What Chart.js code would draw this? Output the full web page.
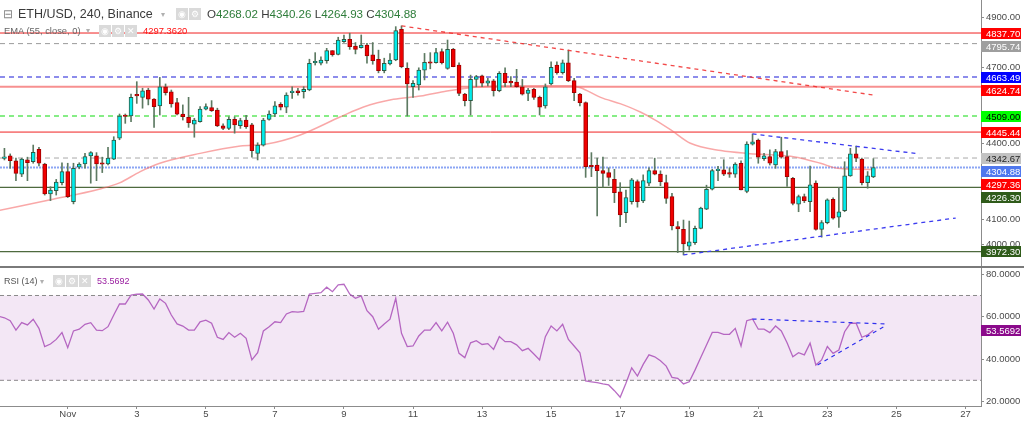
<!DOCTYPE html>
<html>
<head>
<meta charset="utf-8">
<script src="https://cdn.jsdelivr.net/npm/chart.js@4.4.1/dist/chart.umd.min.js"></script>
<style>
  body { margin: 0; background: #fff; width: 1024px; height: 421px; overflow: hidden; position: relative;
         font-family: "Liberation Sans", Arial, sans-serif; }
  canvas { position: absolute; left: 0; }
  #priceChart { top: 0; }
  #rsiChart { top: 268px; }
  .sep { position: absolute; left: 0; top: 266px; width: 1024px; height: 2px; background: #7a7a7a; }
  .t { position: absolute; white-space: nowrap; line-height: 1; }
  .ic { position: absolute; width: 12px; height: 12px; background: #dadada; color: #fff; font-size: 9px;
        line-height: 12px; text-align: center; }
  .caret { color: #b0b0b0; font-size: 8px; }
  .g { color: #2e7d3a; }
</style>
</head>
<body>
<canvas id="priceChart" width="1024" height="266"></canvas>
<div class="sep"></div>
<canvas id="rsiChart" width="1024" height="153"></canvas>

<!-- legends -->
<span class="t" style="left:3px;top:8px;font-size:12px;color:#888">&#8863;</span>
<span class="t" style="left:18px;top:8px;font-size:12.5px;color:#3a3a3a">ETH/USD, 240, Binance</span>
<span class="t caret" style="left:161px;top:11px">&#9662;</span>
<span class="ic" style="left:176px;top:8px">&#9673;</span>
<span class="ic" style="left:189px;top:8px">&#9881;</span>
<span class="t" style="left:207px;top:8px;font-size:11.6px;color:#3a3a3a">O<span class="g">4268.02</span> H<span class="g">4340.26</span> L<span class="g">4264.93</span> C<span class="g">4304.88</span></span>

<span class="t" style="left:4px;top:26px;font-size:9.4px;color:#666">EMA (55, close, 0)</span>
<span class="t caret" style="left:86px;top:27px">&#9662;</span>
<span class="ic" style="left:99px;top:25px">&#9673;</span>
<span class="ic" style="left:112px;top:25px">&#9881;</span>
<span class="ic" style="left:125px;top:25px">&#10005;</span>
<span class="t" style="left:143px;top:26px;font-size:9.4px;color:#ff1010">4297.3620</span>

<span class="t" style="left:4px;top:277px;font-size:9px;color:#555">RSI (14)</span>
<span class="t caret" style="left:40px;top:278px">&#9662;</span>
<span class="ic" style="left:53px;top:275px">&#9673;</span>
<span class="ic" style="left:66px;top:275px">&#9881;</span>
<span class="ic" style="left:79px;top:275px">&#10005;</span>
<span class="t" style="left:97px;top:277px;font-size:9px;color:#9a1fa0">53.5692</span>

<script>
// ---- data (4h candles, index 0 = Nov 1 00:00) ----
const firstCandle = -11;
const candleOpen = [
  4341, 4351, 4332, 4279, 4335, 4328, 4377, 4319, 4200, 4213, 4245, 4289, 4170, 4306, 4319, 4351, 4351, 4320, 4319, 4338,
  4421, 4510, 4509, 4592, 4583, 4612, 4576, 4549, 4625, 4605, 4562, 4517, 4504, 4477, 4487, 4536, 4542, 4533, 4470, 4460,
  4496, 4471, 4493, 4474, 4361, 4394, 4496, 4517, 4555, 4544, 4601, 4609, 4605, 4612, 4720, 4718, 4728, 4768, 4753, 4803,
  4813, 4786, 4780, 4790, 4751, 4734, 4689, 4715, 4731, 4852, 4698, 4625, 4632, 4691, 4722, 4720, 4764, 4698, 4773, 4711,
  4596, 4570, 4654, 4668, 4639, 4648, 4609, 4678, 4642, 4643, 4625, 4599, 4615, 4583, 4549, 4636, 4711, 4681, 4720, 4649,
  4596, 4562, 4310, 4315, 4293, 4285, 4258, 4209, 4126, 4170, 4249, 4173, 4243, 4293, 4279, 4245, 4190, 4071, 4060, 3994,
  4007, 4064, 4140, 4219, 4293, 4296, 4285, 4279, 4322, 4210, 4398, 4414, 4340, 4348, 4315, 4368, 4348, 4262, 4160, 4190,
  4170, 4243, 4060, 4087, 4179, 4108, 4134, 4272, 4359, 4338, 4245, 4268.02
];
const candleHigh = [
  4381, 4359, 4342, 4342, 4346, 4394, 4385, 4322, 4229, 4258, 4324, 4322, 4322, 4324, 4361, 4368, 4364, 4346, 4385, 4427,
  4517, 4517, 4596, 4645, 4619, 4619, 4578, 4662, 4636, 4612, 4579, 4553, 4583, 4500, 4546, 4557, 4570, 4540, 4478, 4506,
  4506, 4500, 4512, 4480, 4403, 4500, 4530, 4566, 4562, 4601, 4625, 4619, 4625, 4734, 4760, 4743, 4777, 4768, 4821, 4830,
  4837, 4800, 4830, 4797, 4800, 4770, 4738, 4756, 4863, 4866, 4720, 4649, 4700, 4757, 4760, 4777, 4775, 4810, 4777, 4720,
  4599, 4671, 4670, 4671, 4659, 4654, 4685, 4700, 4665, 4694, 4654, 4619, 4619, 4588, 4636, 4724, 4724, 4731, 4770, 4658,
  4599, 4565, 4364, 4342, 4346, 4304, 4298, 4245, 4216, 4262, 4256, 4276, 4304, 4342, 4292, 4275, 4203, 4091, 4097, 4093,
  4073, 4148, 4235, 4298, 4310, 4336, 4304, 4324, 4332, 4407, 4438, 4418, 4361, 4375, 4377, 4425, 4372, 4266, 4196, 4200,
  4311, 4252, 4095, 4181, 4185, 4227, 4328, 4381, 4390, 4342, 4289, 4340.26
];
const candleLow = [
  4335, 4302, 4253, 4269, 4253, 4322, 4311, 4196, 4174, 4196, 4236, 4186, 4161, 4300, 4302, 4243, 4253, 4285, 4315, 4336,
  4415, 4480, 4487, 4559, 4540, 4553, 4464, 4513, 4592, 4544, 4513, 4493, 4464, 4425, 4485, 4533, 4527, 4467, 4455, 4455,
  4441, 4460, 4460, 4346, 4335, 4390, 4493, 4506, 4533, 4522, 4579, 4592, 4580, 4609, 4711, 4711, 4718, 4746, 4751, 4800,
  4773, 4755, 4778, 4718, 4714, 4680, 4680, 4711, 4728, 4700, 4509, 4583, 4612, 4652, 4696, 4718, 4715, 4694, 4704, 4590,
  4549, 4513, 4625, 4625, 4628, 4588, 4605, 4625, 4625, 4623, 4592, 4570, 4575, 4513, 4540, 4632, 4675, 4675, 4645, 4570,
  4549, 4266, 4269, 4113, 4227, 4234, 4166, 4071, 4087, 4160, 4148, 4166, 4233, 4276, 4233, 4163, 4058, 3968, 3959, 3978,
  4000, 4062, 4138, 4216, 4253, 4273, 4266, 4266, 4216, 4205, 4394, 4322, 4333, 4315, 4302, 4342, 4230, 4157, 4130, 4166,
  4130, 4057, 4029, 4082, 4100, 4068, 4130, 4270, 4328, 4236, 4223, 4264.93
];
const candleClose = [
  4346, 4332, 4282, 4338, 4324, 4365, 4322, 4200, 4216, 4247, 4289, 4190, 4302, 4319, 4348, 4364, 4319, 4318, 4342, 4414,
  4509, 4507, 4583, 4589, 4609, 4576, 4546, 4625, 4601, 4557, 4516, 4506, 4483, 4493, 4536, 4546, 4530, 4470, 4460, 4496,
  4474, 4491, 4467, 4372, 4394, 4493, 4517, 4549, 4544, 4592, 4608, 4601, 4615, 4718, 4721, 4731, 4768, 4752, 4810, 4813,
  4784, 4773, 4790, 4747, 4728, 4689, 4718, 4731, 4847, 4704, 4636, 4638, 4691, 4722, 4718, 4760, 4720, 4773, 4704, 4599,
  4570, 4654, 4665, 4639, 4648, 4609, 4678, 4641, 4640, 4625, 4596, 4612, 4583, 4544, 4625, 4702, 4681, 4720, 4649, 4601,
  4562, 4308, 4308, 4293, 4282, 4266, 4205, 4117, 4186, 4256, 4170, 4253, 4293, 4279, 4249, 4183, 4074, 4062, 4002, 4011,
  4064, 4144, 4219, 4293, 4295, 4279, 4279, 4319, 4216, 4398, 4407, 4346, 4351, 4322, 4368, 4346, 4269, 4163, 4190, 4174,
  4236, 4060, 4087, 4177, 4104, 4130, 4272, 4359, 4342, 4245, 4272, 4304.88
];

// EMA 55: candle index -> value
const emaIndex = [-12, -3, 5.6, 9, 12.6, 16, 23, 30, 34.6, 40.4, 47.4, 51.4, 56.6, 61.3, 65.9, 71.8, 77.5, 83.3, 87.4,
  89.1, 92.6, 96.1, 99.5, 102.1, 104.8, 108.2, 113.5, 118.1, 122.7, 126.1, 130.8, 133.7, 137.8, 140];
const emaValue = [4135, 4177, 4220, 4244, 4289, 4322, 4361, 4390, 4398, 4434, 4506, 4545, 4575, 4588, 4608, 4625, 4628, 4629, 4629,
  4621, 4583, 4557, 4525, 4493, 4454, 4401, 4372, 4361, 4355, 4348, 4322, 4302, 4298, 4297.36];

// RSI 14, one value per candle starting at index -12
const rsiStart = -12;
const rsiValues = [
  60.2, 59.5, 58.1, 53.7, 57.2, 56.1, 58.8, 54.5, 45.9, 47.1, 49.3, 52.5, 45.4, 53.3, 54.1, 56.4, 57.2, 53.7, 53.4, 55.3,
  60.8, 66.0, 66.0, 70.2, 70.6, 70.7, 67.9, 63.6, 68.4, 66.3, 60.8, 56.6, 55.6, 53.7, 53.7, 57.6, 58.4, 56.9, 50.3, 49.3,
  52.5, 50.3, 52.2, 49.8, 39.6, 43.0, 53.3, 55.3, 57.6, 57.2, 61.3, 62.4, 62.2, 62.5, 70.7, 71.0, 71.3, 73.9, 71.8, 75.0,
  75.3, 70.7, 68.7, 69.8, 62.8, 60.0, 54.1, 56.6, 58.8, 68.7, 52.2, 45.9, 46.2, 50.9, 53.7, 53.7, 57.2, 53.3, 57.4, 52.2,
  42.7, 40.7, 47.7, 48.7,
  46.9, 47.3, 44.6, 50.6, 48.2, 48.2, 46.7, 44.0, 45.1, 42.4, 39.6, 50.6, 55.6, 53.3, 56.4, 49.3, 46.2, 43.0, 29.7, 29.3,
  28.9, 28.3, 27.8, 25.1, 22.0, 28.6, 35.9, 32.0, 37.5, 42.0, 41.1, 39.2, 36.7, 31.4, 30.9, 28.3, 29.3, 34.8, 40.8, 46.7,
  52.6, 52.6, 51.7, 51.7, 54.5, 46.2, 58.1, 58.9, 54.1, 54.1, 52.5, 55.6, 53.3, 47.7, 41.1, 43.0, 42.0, 47.5, 37.2, 39.6,
  45.9, 42.7, 44.3, 52.9, 56.9, 56.9, 50.3, 51.4, 53.57
];

// horizontal levels
const levelValues = [4837.70, 4795.74, 4663.49, 4624.74, 4509.00, 4445.44, 4342.67, 4304.88, 4226.30, 3972.30];
const emaLast = 4297.36;
const rsiLast = 53.5692;

// trend lines: [start, end]
const redTrendX = [58, 140];
const redTrendY = [4866, 4592];
const upperWedgeX = [119, 148];
const upperWedgeY = [4438, 4359];
const lowerWedgeX = [107, 154.3];
const lowerWedgeY = [3959, 4105];
const rsiUpperX = [119, 142];
const rsiUpperY = [58.9, 56.6];
const rsiLowerX = [130.3, 141.8];
const rsiLowerY = [37.2, 55.3];

const priceTicks = [4900, 4700, 4400, 4100, 4000];
const rsiTicks = [20, 40, 60, 80];
const rsiBands = [70, 30];
const dayTickIndex = [0, 12, 24, 36, 48, 60, 72, 84, 96, 108, 120, 132, 144, 156];
const dayTickLabels = ['Nov', '3', '5', '7', '9', '11', '13', '15', '17', '19', '21', '23', '25', '27'];

// ---- styles ----
const FONT = '"Liberation Sans", Arial, sans-serif';
const X_MIN = -11.77, X_MAX = 158.7;
const UP = '#00ecec', UP_EDGE = '#2c5a44', DOWN = '#f00000', DOWN_EDGE = '#a00000', WICK = '#5d7a62';
const levelColor = ['#f02020', '#9a9a9a', '#1a1ad8', '#f79090', '#5fe85f', '#f02020', '#a8a8a8', '#8ca6f4', '#4e6a3e', '#4e6a3e'];
const levelDash = [[], [5, 4], [5, 4], [], [5, 4], [], [5, 4], [2, 1], [], []];
const levelWidth = [1, 1, 1.2, 2, 1.5, 1, 1, 2, 1.2, 1.2];
const tagValues = levelValues.slice(0, 8).concat([emaLast], levelValues.slice(8));
const tagBg = ['#ff0000', '#9e9e9e', '#0000ff', '#ff0000', '#00ff00', '#ff0000', '#c2c2c2', '#4f78ee', '#ff0000', '#2f5b1a', '#2f5b1a'];
const tagFg = ['#fff', '#fff', '#fff', '#fff', '#000', '#fff', '#222', '#fff', '#fff', '#fff', '#fff'];

const candleX = candleOpen.map((_, k) => firstCandle + k);
const isUp = candleOpen.map((o, k) => candleClose[k] >= o);

function seg(xs, ys) { return xs.map((x, k) => ({ x: x, y: ys[k] })); }
function flat(v) { return [{ x: X_MIN, y: v }, { x: X_MAX, y: v }]; }

// value tags on the right axis, pushed apart when they overlap
const axisTags = {
  id: 'axisTags',
  afterDraw(chart, args, opts) {
    const ctx = chart.ctx;
    const s = chart.scales.y;
    const h = 11;
    const items = opts.values.map((v, k) => ({ v: v, k: k, py: s.getPixelForValue(v) }))
      .sort((a, b) => a.py - b.py);
    let lastBottom = -100;
    ctx.save();
    ctx.font = '9.5px ' + FONT;
    ctx.textBaseline = 'middle';
    items.forEach(it => {
      let top = it.py - h / 2;
      if (top < lastBottom + 2) top = lastBottom + 2;
      lastBottom = top + h;
      ctx.fillStyle = opts.bg[it.k];
      ctx.fillRect(s.left, Math.round(top), 40, h);
      ctx.fillStyle = opts.fg[it.k];
      ctx.fillText(it.v.toFixed(opts.digits), s.left + 5, Math.round(top) + h / 2 + 0.5);
    });
    ctx.restore();
  }
};

const yAxisCommon = {
  type: 'linear', position: 'right', bounds: 'data', beginAtZero: false,
  grid: { drawOnChartArea: false, drawTicks: true, tickLength: 3, color: '#8c8c8c' },
  border: { display: true, color: '#8c8c8c' },
  afterFit: s => { s.width = 43; s.paddingTop = 0; s.paddingBottom = 0; }
};

// ---- price pane ----
const levelSets = levelValues.map((v, k) => ({
  type: 'line', data: flat(v), borderColor: levelColor[k], borderWidth: levelWidth[k],
  borderDash: levelDash[k], pointRadius: 0, order: 5
}));

new Chart(document.getElementById('priceChart'), {
  type: 'bar',
  data: {
    datasets: [
      { type: 'line', data: seg(redTrendX, redTrendY), borderColor: 'rgba(240,40,40,0.85)', borderWidth: 1.3,
        borderDash: [4, 4], pointRadius: 0, order: -1 },
      { type: 'line', data: seg(upperWedgeX, upperWedgeY), borderColor: '#3c3cf0', borderWidth: 1.3,
        borderDash: [4, 4], pointRadius: 0, order: -1 },
      { type: 'line', data: seg(lowerWedgeX, lowerWedgeY), borderColor: '#3c3cf0', borderWidth: 1.3,
        borderDash: [4, 4], pointRadius: 0, order: -1 },
      { type: 'bar', data: candleX.map((x, k) => ({ x: x, y: [candleOpen[k], candleClose[k]] })),
        backgroundColor: isUp.map(u => u ? UP : DOWN), borderColor: isUp.map(u => u ? UP_EDGE : DOWN_EDGE),
        borderWidth: 1, borderSkipped: false, barThickness: 4, minBarLength: 1.5, grouped: false, order: 1 },
      { type: 'bar', data: candleX.map((x, k) => ({ x: x, y: [candleLow[k], candleHigh[k]] })),
        backgroundColor: WICK, barThickness: 1, grouped: false, order: 2 },
      { type: 'line', data: seg(emaIndex, emaValue), borderColor: 'rgba(245,110,110,0.6)', borderWidth: 1.5,
        pointRadius: 0, cubicInterpolationMode: 'monotone', order: 3 }
    ].concat(levelSets)
  },
  options: {
    responsive: false, animation: false, devicePixelRatio: 1,
    layout: { padding: 0 },
    plugins: {
      legend: { display: false }, tooltip: { enabled: false },
      axisTags: { values: tagValues, bg: tagBg, fg: tagFg, digits: 2 }
    },
    scales: {
      x: { type: 'linear', min: X_MIN, max: X_MAX, bounds: 'data', offset: false, display: false,
           grid: { display: false, offset: false } },
      y: Object.assign({}, yAxisCommon, {
        min: 3915, max: 4968.5,
        afterBuildTicks: s => { s.ticks = priceTicks.map(v => ({ value: v })); },
        ticks: { callback: v => v.toFixed(2), font: { size: 9.5, family: FONT }, color: '#4a4a4a',
                 padding: 2, autoSkip: false }
      })
    }
  },
  plugins: [axisTags]
});

// ---- RSI pane ----
new Chart(document.getElementById('rsiChart'), {
  type: 'line',
  data: {
    datasets: [
      { data: flat(rsiBands[0]), borderColor: '#8a8a8a', borderWidth: 1, borderDash: [4, 3], pointRadius: 0,
        fill: '+1', backgroundColor: 'rgba(150,40,160,0.11)', order: 5 },
      { data: flat(rsiBands[1]), borderColor: '#8a8a8a', borderWidth: 1, borderDash: [4, 3], pointRadius: 0,
        fill: false, order: 6 },
      { data: rsiValues.map((v, k) => ({ x: rsiStart + k, y: v })), borderColor: 'rgba(165,70,180,0.8)',
        borderWidth: 1.3, pointRadius: 0, fill: false, order: 1 },
      { data: seg(rsiUpperX, rsiUpperY), borderColor: '#3030ee', borderWidth: 1.2, borderDash: [4, 4],
        pointRadius: 0, fill: false, order: 0 },
      { data: seg(rsiLowerX, rsiLowerY), borderColor: '#3030ee', borderWidth: 1.2, borderDash: [4, 4],
        pointRadius: 0, fill: false, order: 0 }
    ]
  },
  options: {
    responsive: false, animation: false, devicePixelRatio: 1,
    layout: { padding: 0 },
    plugins: {
      legend: { display: false }, tooltip: { enabled: false },
      axisTags: { values: [rsiLast], bg: ['#8b0a8b'], fg: ['#fff'], digits: 4 }
    },
    scales: {
      x: { type: 'linear', min: X_MIN, max: X_MAX, bounds: 'data', offset: false, position: 'bottom',
           afterBuildTicks: s => { s.ticks = dayTickIndex.map(v => ({ value: v })); },
           afterFit: s => { s.height = 15; s.paddingLeft = 0; s.paddingRight = 0; },
           ticks: { callback: (v, i) => dayTickLabels[i], font: { size: 9.5, family: FONT }, color: '#4a4a4a',
                    padding: 0, maxRotation: 0, autoSkip: false },
           grid: { drawOnChartArea: false, drawTicks: true, tickLength: 3, color: '#8c8c8c' },
           border: { display: true, color: '#8c8c8c' } },
      y: Object.assign({}, yAxisCommon, {
        min: 17.88, max: 82.97,
        afterBuildTicks: s => { s.ticks = rsiTicks.map(v => ({ value: v })); },
        ticks: { callback: v => v.toFixed(4), font: { size: 9.5, family: FONT }, color: '#4a4a4a',
                 padding: 2, autoSkip: false }
      })
    }
  },
  plugins: [axisTags]
});
</script>
</body>
</html>
